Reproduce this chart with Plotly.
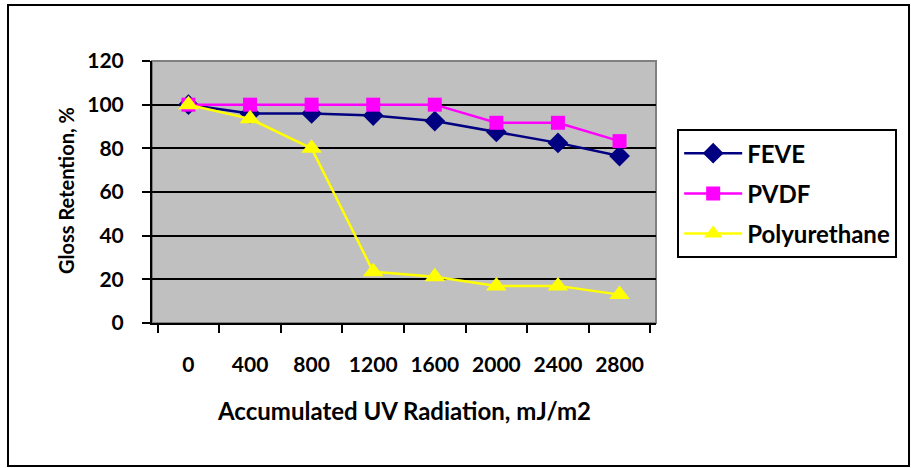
import plotly.graph_objects as go

categories = ["0", "400", "800", "1200", "1600", "2000", "2400", "2800"]
feve = [100, 96, 96, 95, 92.5, 87.5, 82.5, 76.5]
pvdf = [100, 100, 100, 100, 100, 91.7, 91.7, 83.3]
polyurethane = [100, 93.5, 80, 23.5, 21.2, 17, 17, 13]

FONT = "Lato"
fig = go.Figure()
fig.add_trace(go.Scatter(x=categories, y=feve, name="FEVE", mode="lines+markers",
                         line=dict(color="#000080", width=2.5),
                         marker=dict(symbol="diamond", size=16, color="#000080"),
                         legendgroup="a"))
fig.add_trace(go.Scatter(x=categories, y=pvdf, name="PVDF", mode="lines+markers",
                         line=dict(color="#FF00FF", width=2.5),
                         marker=dict(symbol="square", size=14, color="#FF00FF"),
                         legendgroup="b"))
fig.add_trace(go.Scatter(x=categories, y=polyurethane, name="Polyurethane", mode="lines+markers",
                         line=dict(color="#FFFF00", width=2.5),
                         marker=dict(symbol="triangle-up", size=18, color="#FFFF00"),
                         legendgroup="c"))

fig.update_layout(
    width=911, height=468,
    margin=dict(l=152, r=255, t=61, b=145),
    paper_bgcolor="white", plot_bgcolor="#C0C0C0",
    font=dict(family=FONT, size=21, color="black", weight="bold"),
    showlegend=True,
    legend=dict(x=1.042, y=0.74, xanchor="left", yanchor="top",
                bordercolor="black", borderwidth=2, bgcolor="white",
                font=dict(family=FONT, size=24, color="black", weight="bold"),
                traceorder="grouped", tracegroupgap=6, itemwidth=58),
    xaxis=dict(type="category", tickson="boundaries", ticks="outside", ticklen=8,
               tickwidth=2, tickcolor="black", showline=True, linecolor="black", linewidth=2,
               showgrid=False, ticklabelstandoff=22,
               tickfont=dict(family=FONT, size=21, weight="bold")),
    yaxis=dict(range=[0, 120], dtick=20, ticks="outside", ticklen=8, tickwidth=2,
               tickcolor="black", showline=True, linecolor="black", linewidth=2,
               showgrid=True, gridcolor="black", gridwidth=2, zeroline=False,
               ticklabelstandoff=14,
               tickfont=dict(family=FONT, size=21, weight="bold")),
    shapes=[
        dict(type="rect", xref="paper", yref="paper", x0=0, x1=1, y0=0, y1=1,
             line=dict(color="#808080", width=2), layer="below"),
        dict(type="rect", xref="paper", yref="paper",
             x0=(8 - 152) / 504, x1=(909 - 152) / 504,
             y0=(323 - 466) / 262, y1=(323 - 5) / 262,
             line=dict(color="black", width=2), layer="below"),
    ],
    annotations=[
        dict(text="Accumulated UV Radiation, mJ/m2", xref="paper", yref="paper",
             x=(404 - 152) / 504, y=(323 - 410) / 262, showarrow=False,
             xanchor="center", yanchor="middle",
             font=dict(family=FONT, size=24, weight="bold")),
        dict(text="Gloss Retention, %", xref="paper", yref="paper",
             x=(66 - 152) / 504, y=(323 - 191) / 262, showarrow=False, textangle=-90,
             xanchor="center", yanchor="middle",
             font=dict(family=FONT, size=20, weight="bold")),
    ],
)

fig.write_html("out.html")
